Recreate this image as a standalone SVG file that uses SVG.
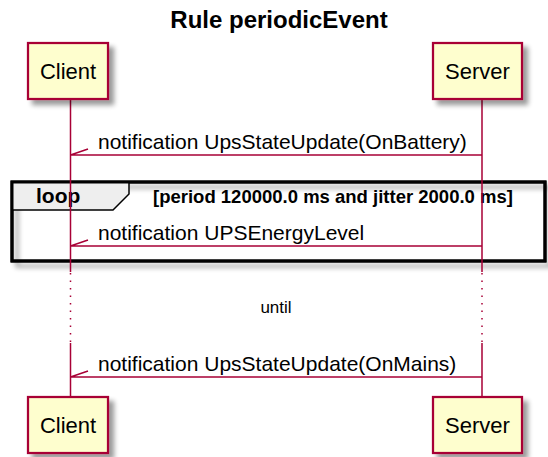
<svg xmlns="http://www.w3.org/2000/svg" width="548" height="457" viewBox="0 0 548 457">
<defs>
<filter id="sh" x="-10%" y="-10%" width="130%" height="140%">
<feGaussianBlur in="SourceAlpha" stdDeviation="2.5"/>
<feOffset dx="5" dy="5"/>
<feComponentTransfer><feFuncA type="linear" slope="0.4"/></feComponentTransfer>
<feMerge><feMergeNode/><feMergeNode in="SourceGraphic"/></feMerge>
</filter>
</defs>
<style>
text{font-family:"Liberation Sans",Arial,sans-serif;fill:#000}
.box{fill:#FEFECE;stroke:#A80036;stroke-width:2.25}
.pt{font-size:22px;text-anchor:middle}
.life{stroke:#A80036;stroke-width:1.5;fill:none}
.dot{stroke:#A80036;stroke-width:1.5;stroke-dasharray:1.5,6;fill:none}
.msg{stroke:#A80036;stroke-width:1.5;fill:none}
.mt{font-size:21px}
.title{font-size:24px;font-weight:bold;text-anchor:middle}
</style>
<text class="title" x="279" y="28">Rule periodicEvent</text>

<g id="loop">
<rect x="12" y="182" width="533" height="79" fill="none" stroke="#000" stroke-width="3" filter="url(#sh)"/>
<path d="M12,182 L129,182 L129,194 L113,210 L12,210 Z" fill="#EEEEEE" stroke="#000" stroke-width="1.5"/>
<rect x="12" y="182" width="533" height="79" fill="none" stroke="#000" stroke-width="3"/>
<text x="36" y="203" font-size="21" font-weight="bold">loop</text>
<text x="153" y="203" font-size="18.5" font-weight="bold">[period 120000.0 ms and jitter 2000.0 ms]</text>
</g>

<g id="lifelines">
<path class="life" d="M70.5,99 V272 M70.5,343 V397 M482,99 V272 M482,343 V397"/>
<path class="dot" d="M70.5,273 V342 M482,273 V342"/>
</g>

<g id="connectors">
<path class="msg" d="M482,155 H70.5 M70.5,155 L88,149"/>
<text class="mt" x="98" y="149">notification UpsStateUpdate(OnBattery)</text>
<path class="msg" d="M482,246 H70.5 M70.5,246 L88,240"/>
<text class="mt" x="98" y="240">notification UPSEnergyLevel</text>
<path class="msg" d="M482,377 H70.5 M70.5,377 L88,371"/>
<text class="mt" x="98" y="371">notification UpsStateUpdate(OnMains)</text>
</g>

<text x="276" y="313" font-size="17" text-anchor="middle">until</text>

<g id="client-top">
<rect class="box" x="28" y="43" width="80" height="56" filter="url(#sh)"/>
<text class="pt" x="68" y="79">Client</text>
</g>
<g id="server-top">
<rect class="box" x="433" y="43" width="89" height="56" filter="url(#sh)"/>
<text class="pt" x="477.5" y="79">Server</text>
</g>
<g id="client-bottom">
<rect class="box" x="28" y="397" width="80" height="56" filter="url(#sh)"/>
<text class="pt" x="68" y="433">Client</text>
</g>
<g id="server-bottom">
<rect class="box" x="433" y="397" width="89" height="56" filter="url(#sh)"/>
<text class="pt" x="477.5" y="433">Server</text>
</g>
</svg>
